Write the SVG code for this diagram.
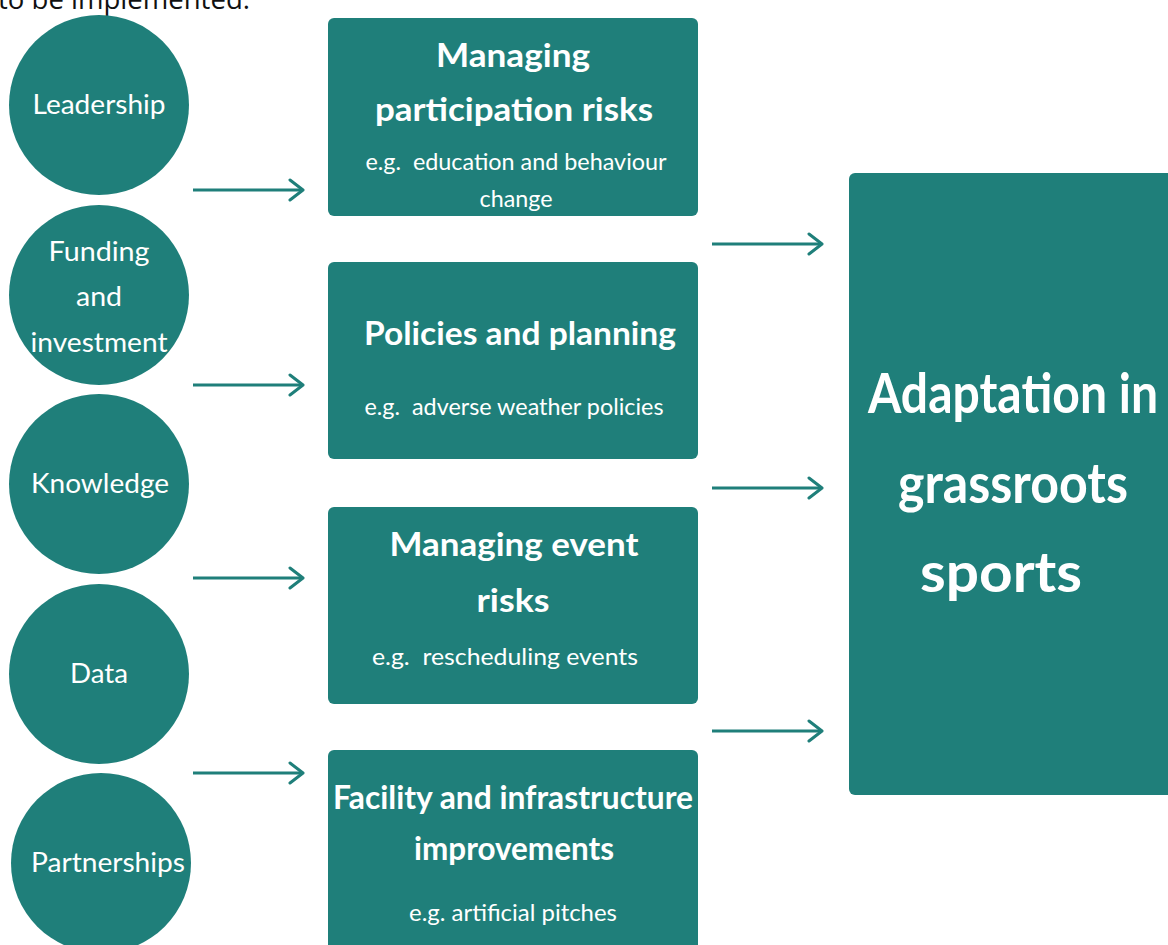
<svg xmlns="http://www.w3.org/2000/svg" width="1168" height="945" viewBox="0 0 1168 945">
  <defs>
    <style>
      .node { fill: #1f7f7a; }
      .lbl { fill: #ffffff; font-family: Lato, "Open Sans", "Noto Sans", sans-serif; text-anchor: middle; white-space: pre; }
      .circ { font-size: 26px; font-weight: 400; }
      .head { font-size: 33px; font-weight: 700; }
      .sub { font-size: 23px; font-weight: 400; }
      .big { font-size: 56px; font-weight: 700; }
      .link { stroke: #1f7f7a; stroke-width: 3; fill: none; }
      .caption { fill: #111111; font-family: "Open Sans", "Noto Sans", sans-serif; font-size: 27px; }
    </style>
    <marker id="chev" markerUnits="userSpaceOnUse" markerWidth="20" markerHeight="24" refX="16" refY="12" orient="auto">
      <path d="M3,2 L16,12 L3,22" stroke="#1f7f7a" stroke-width="3" fill="none" stroke-linecap="round" stroke-linejoin="round"/>
    </marker>
  </defs>
  <rect width="1168" height="945" fill="#ffffff"/>

  <!-- tail of the preceding paragraph -->
  <text class="caption" x="-2" y="9" textLength="252" lengthAdjust="spacingAndGlyphs">to be implemented.</text>

  <!-- enabling factors -->
  <g id="leadership">
    <circle class="node" cx="99" cy="105" r="90"/>
    <text class="lbl circ" x="99" y="114" textLength="133" lengthAdjust="spacingAndGlyphs">Leadership</text>
  </g>
  <g id="funding">
    <circle class="node" cx="99" cy="295" r="90"/>
    <text class="lbl circ" x="99" y="261" textLength="101" lengthAdjust="spacingAndGlyphs">Funding</text>
    <text class="lbl circ" x="99" y="306" textLength="46" lengthAdjust="spacingAndGlyphs">and</text>
    <text class="lbl circ" x="99" y="352" textLength="137" lengthAdjust="spacingAndGlyphs">investment</text>
  </g>
  <g id="knowledge">
    <circle class="node" cx="99" cy="484" r="90"/>
    <text class="lbl circ" x="100" y="493" textLength="138" lengthAdjust="spacingAndGlyphs">Knowledge</text>
  </g>
  <g id="data">
    <circle class="node" cx="99" cy="674" r="90"/>
    <text class="lbl circ" x="99" y="683" textLength="58" lengthAdjust="spacingAndGlyphs">Data</text>
  </g>
  <g id="partnerships">
    <circle class="node" cx="101" cy="863" r="90"/>
    <text class="lbl circ" x="108" y="872" textLength="154" lengthAdjust="spacingAndGlyphs">Partnerships</text>
  </g>

  <!-- adaptation measures -->
  <g id="participation-risks">
    <rect class="node" x="328" y="18" width="370" height="198" rx="6"/>
    <text class="lbl head" x="513" y="67" textLength="154" lengthAdjust="spacingAndGlyphs">Managing</text>
    <text class="lbl head" x="514" y="121" textLength="278" lengthAdjust="spacingAndGlyphs">participation risks</text>
    <text class="lbl sub" x="516" y="170" textLength="301" lengthAdjust="spacingAndGlyphs">e.g.  education and behaviour</text>
    <text class="lbl sub" x="516" y="207" textLength="73" lengthAdjust="spacingAndGlyphs">change</text>
  </g>
  <g id="policies-planning">
    <rect class="node" x="328" y="262" width="370" height="197" rx="6"/>
    <text class="lbl head" x="520" y="345" textLength="312" lengthAdjust="spacingAndGlyphs">Policies and planning</text>
    <text class="lbl sub" x="514" y="415" textLength="299" lengthAdjust="spacingAndGlyphs">e.g.  adverse weather policies</text>
  </g>
  <g id="event-risks">
    <rect class="node" x="328" y="507" width="370" height="197" rx="6"/>
    <text class="lbl head" x="514" y="556" textLength="249" lengthAdjust="spacingAndGlyphs">Managing event</text>
    <text class="lbl head" x="513" y="612" textLength="73" lengthAdjust="spacingAndGlyphs">risks</text>
    <text class="lbl sub" x="505" y="665" textLength="266" lengthAdjust="spacingAndGlyphs">e.g.  rescheduling events</text>
  </g>
  <g id="facility-infrastructure">
    <rect class="node" x="328" y="750" width="370" height="205" rx="6"/>
    <text class="lbl head" x="513" y="809" textLength="360" lengthAdjust="spacingAndGlyphs">Facility and infrastructure</text>
    <text class="lbl head" x="514" y="860" textLength="200" lengthAdjust="spacingAndGlyphs">improvements</text>
    <text class="lbl sub" x="513" y="921" textLength="208" lengthAdjust="spacingAndGlyphs">e.g. artificial pitches</text>
  </g>

  <!-- outcome -->
  <g id="adaptation">
    <rect class="node" x="849" y="173" width="340" height="622" rx="6"/>
    <text class="lbl big" x="1013" y="413" textLength="290" lengthAdjust="spacingAndGlyphs">Adaptation in</text>
    <text class="lbl big" x="1013" y="503" textLength="230" lengthAdjust="spacingAndGlyphs">grassroots</text>
    <text class="lbl big" x="1001" y="592" textLength="162" lengthAdjust="spacingAndGlyphs">sports</text>
  </g>

  <!-- connectors -->
  <g id="connectors">
    <line class="link" x1="193" y1="190" x2="303" y2="190" marker-end="url(#chev)"/>
    <line class="link" x1="193" y1="385" x2="303" y2="385" marker-end="url(#chev)"/>
    <line class="link" x1="193" y1="578" x2="303" y2="578" marker-end="url(#chev)"/>
    <line class="link" x1="193" y1="773" x2="303" y2="773" marker-end="url(#chev)"/>
    <line class="link" x1="712" y1="244" x2="822" y2="244" marker-end="url(#chev)"/>
    <line class="link" x1="712" y1="488" x2="822" y2="488" marker-end="url(#chev)"/>
    <line class="link" x1="712" y1="731" x2="822" y2="731" marker-end="url(#chev)"/>
  </g>
</svg>
